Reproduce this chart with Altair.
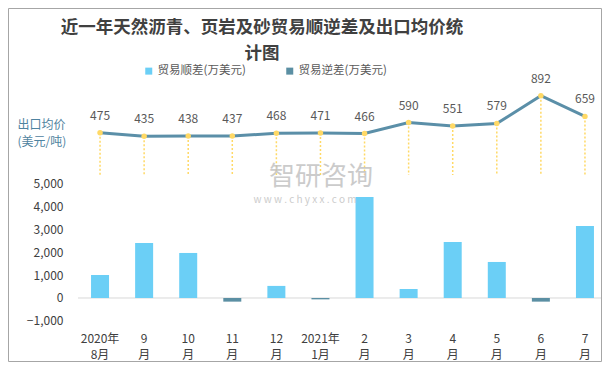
import altair as alt
import pandas as pd

months = ["2020年|8月", "9|月", "10|月", "11|月", "12|月", "2021年|1月",
          "2|月", "3|月", "4|月", "5|月", "6|月", "7|月"]
surplus = [1010, 2410, 1975, 0, 530, 0, 4430, 395, 2455, 1580, 0, 3160]
deficit = [0, 0, 0, -160, 0, -60, 0, 0, 0, 0, -160, 0]
price = [475, 435, 438, 437, 468, 471, 466, 590, 551, 579, 892, 659]
series = ["贸易顺差(万美元)", "贸易逆差(万美元)"]
bar_ticks = [-1000, 0, 1000, 2000, 3000, 4000, 5000]
title_text = "近一年天然沥青、页岩及砂贸易顺逆差及出口均价统\n计图"

FONT = "Noto Sans CJK SC"
W, H = 524, 236
XR = 529

rows = []
for m, s, d in zip(months, surplus, deficit):
    if s != 0:
        rows.append({"month": m, "series": series[0], "value": s})
    if d != 0:
        rows.append({"month": m, "series": series[1], "value": d})
bars_df = pd.DataFrame(rows)
line_df = pd.DataFrame({"month": months, "price": price, "base": [0] * len(months)})

xenc = alt.X("month:N", sort=months,
             scale=alt.Scale(paddingInner=0, paddingOuter=0, range=[0, XR]),
             axis=alt.Axis(title=None, labelExpr="split(datum.label, '|')",
                           labelAngle=0, labelFontSize=12, labelColor="#404040",
                           labelFont=FONT, labelPadding=11, labelBaseline="top",
                           labelLineHeight=16, domain=False, ticks=False))

bar_scale = alt.Scale(domain=[-1053, 9298], nice=False, zero=False)
line_scale = alt.Scale(domain=[-1656, 1001], nice=False, zero=False)
bar_axis = alt.Axis(title=None, values=bar_ticks, format=",.0f", labelFontSize=12,
                    labelColor="#404040", labelFont=FONT, labelPadding=15,
                    tickSize=0, ticks=False, domain=False, grid=False)

zero_line = alt.Chart(pd.DataFrame({"z": [0]})).mark_rule(color="#D9D9D9", strokeWidth=1).encode(
    y=alt.Y("z:Q", scale=bar_scale, axis=bar_axis)
)

bars = alt.Chart(bars_df).mark_bar(size=18).encode(
    x=xenc,
    y=alt.Y("value:Q", scale=bar_scale, stack=None, axis=bar_axis),
    color=alt.Color("series:N", scale=alt.Scale(domain=series, range=["#6BCFF6", "#5B8FA3"]),
                    legend=alt.Legend(title=None, orient="none", direction="horizontal",
                                      legendX=65, legendY=-21, symbolType="square",
                                      symbolSize=49, labelFontSize=11.5, labelFont=FONT,
                                      labelColor="#595959", columnPadding=38, labelOffset=3,
                                      padding=0)),
)

line_axis = alt.Axis(title=["出口均价", "(美元/吨)"], orient="left", labels=False, ticks=False,
                     domain=False, grid=False, titleAngle=0, titleX=-61, titleY=42,
                     titleAlign="left", titleBaseline="alphabetic", titleFontSize=12,
                     titleFontWeight="normal", titleFont=FONT, titleColor="#4F83A0",
                     titleLineHeight=17)

drops = alt.Chart(line_df).mark_rule(color="#FFD966", strokeWidth=1.5, strokeDash=[2, 2]).encode(
    x=alt.X("month:N", sort=months),
    y=alt.Y("price:Q", scale=line_scale, axis=line_axis),
    y2="base:Q",
)
line = alt.Chart(line_df).mark_line(color="#5B8FA8", strokeWidth=3).encode(
    x=alt.X("month:N", sort=months),
    y=alt.Y("price:Q", scale=line_scale),
)
points = alt.Chart(line_df).mark_circle(color="#FFD966", size=30, opacity=1).encode(
    x=alt.X("month:N", sort=months),
    y=alt.Y("price:Q", scale=line_scale),
)
labels = alt.Chart(line_df).mark_text(dy=-17, fontSize=12, font=FONT, color="#595959").encode(
    x=alt.X("month:N", sort=months),
    y=alt.Y("price:Q", scale=line_scale),
    text="price:Q",
)

wm1 = alt.Chart(pd.DataFrame({"t": ["智研咨询"]})).mark_text(
    fontSize=26, font=FONT, color="#BFBFBF", opacity=0.8).encode(
    x=alt.value(243), y=alt.value(91), text="t:N")
wm2 = alt.Chart(pd.DataFrame({"t": ["w w w . c h y x x . c o m"]})).mark_text(
    fontSize=10, font=FONT, color="#BFBFBF", opacity=0.8).encode(
    x=alt.value(227), y=alt.value(114), text="t:N")

title = alt.Chart(pd.DataFrame({"t": [title_text]})).mark_text(
    fontSize=17.5, font=FONT, fontWeight="bold", color="#404040", lineBreak="\n",
    lineHeight=26, baseline="middle", align="center").encode(
    x=alt.value(184), y=alt.value(-58), text="t:N")

border = alt.Chart(pd.DataFrame({"a": [0]})).mark_rect(
    fill=None, stroke="#A6A6A6", strokeWidth=1).encode(
    x=alt.value(-69.5), x2=alt.value(W - 0.5), y=alt.value(-77.5), y2=alt.value(H + 39.5))

bar_layer = alt.layer(zero_line, bars)
line_layer = alt.layer(drops, line, points, labels)

chart = alt.layer(bar_layer, line_layer, wm1, wm2, title, border).resolve_scale(
    y="independent", color="independent"
).properties(
    width=W, height=H,
    autosize=alt.AutoSizeParams(type="none"),
    padding={"left": 70, "top": 78, "right": 0, "bottom": 40},
).configure_view(stroke=None).configure_axis(grid=False)

chart.save("out.html", embed_options={"renderer": "svg", "actions": False})
